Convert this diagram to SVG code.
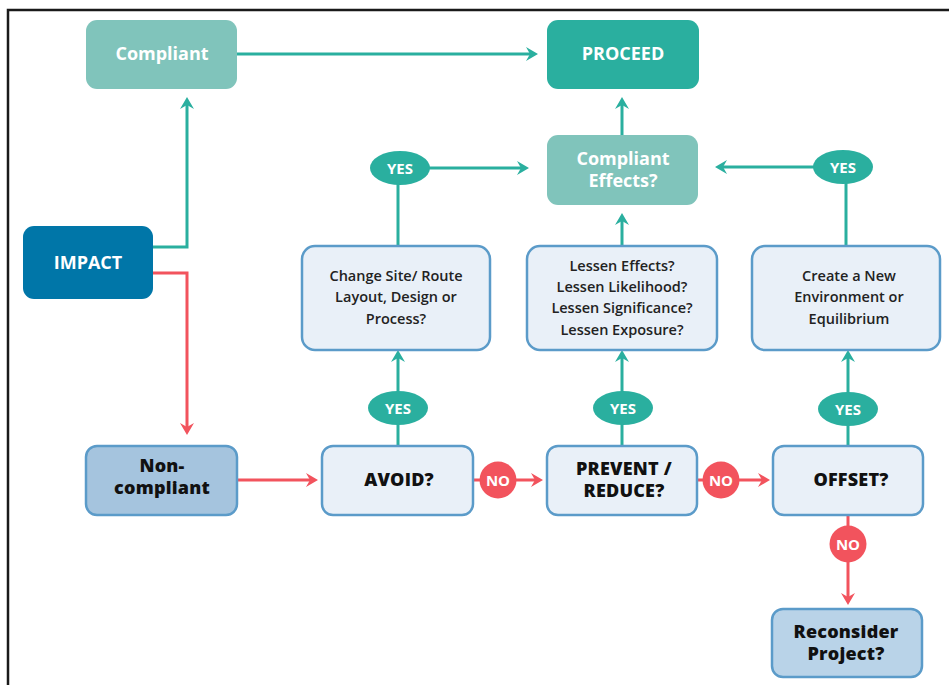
<svg xmlns="http://www.w3.org/2000/svg" width="949" height="685" viewBox="0 0 949 685">
<style>
.t{font-family:"Open Sans","Liberation Sans",sans-serif;text-anchor:middle}
.w{fill:#fff;font-weight:700;font-size:18px}
.b{fill:#111;font-weight:800;font-size:18px;letter-spacing:0.2px}
.s{fill:#222;font-size:14.5px;font-weight:600}
.lbl{fill:#fff;font-weight:700;font-size:15px}
.q{fill:#e9f0f8;stroke:#5b9bc9;stroke-width:2.5}
.ct{fill:none;stroke:#2aaf9f;stroke-width:3}
.cr{fill:none;stroke:#f2535d;stroke-width:3}
</style>
<defs>
<marker id="at" viewBox="-13 -8 14 16" refX="-8" refY="0" markerWidth="14" markerHeight="16" markerUnits="userSpaceOnUse" orient="auto">
<path d="M0,0 L-12,-7 L-8,0 L-12,7 Z" fill="#2aaf9f"/>
</marker>
<marker id="ar" viewBox="-13 -8 14 16" refX="-8" refY="0" markerWidth="14" markerHeight="16" markerUnits="userSpaceOnUse" orient="auto">
<path d="M0,0 L-12,-7 L-8,0 L-12,7 Z" fill="#f2535d"/>
</marker>
</defs>
<rect width="949" height="685" fill="#fff"/>
<path d="M8,690 V10 H955" fill="none" stroke="#1a1a1a" stroke-width="2.5"/>

<g id="connectors">
<path class="ct" d="M153,247 H187 V105" marker-end="url(#at)"/>
<path class="ct" d="M237,54 H530" marker-end="url(#at)"/>
<path class="ct" d="M622,135 V105" marker-end="url(#at)"/>
<path class="ct" d="M622,246 V221" marker-end="url(#at)"/>
<path class="ct" d="M398,446 V358" marker-end="url(#at)"/>
<path class="ct" d="M622,446 V358" marker-end="url(#at)"/>
<path class="ct" d="M848,446 V358" marker-end="url(#at)"/>
<path class="ct" d="M398,246 V168 H521" marker-end="url(#at)"/>
<path class="ct" d="M846,246 V167 H723" marker-end="url(#at)"/>
<path class="cr" d="M153,273 H187 V427" marker-end="url(#ar)"/>
<path class="cr" d="M237,480 H310" marker-end="url(#ar)"/>
<path class="cr" d="M473,480 H535" marker-end="url(#ar)"/>
<path class="cr" d="M697,480 H762" marker-end="url(#ar)"/>
<path class="cr" d="M848,515 V597" marker-end="url(#ar)"/>
</g>

<g id="compliant"><rect x="86" y="20" width="151" height="69" rx="11" fill="#80c4bb"/><text class="t w" x="162" y="60">Compliant</text></g>
<g id="proceed"><rect x="547" y="20" width="152" height="69" rx="11" fill="#2aaf9f"/><text class="t w" x="623" y="60">PROCEED</text></g>
<g id="impact"><rect x="23" y="226" width="130" height="73" rx="11" fill="#0076a8"/><text class="t w" x="88" y="269">IMPACT</text></g>
<g id="compliant-effects"><rect x="547" y="135" width="151" height="70" rx="11" fill="#80c4bb"/><text class="t w" x="623" y="165">Compliant</text><text class="t w" x="623" y="187">Effects?</text></g>

<g id="change-site"><rect class="q" x="302" y="246" width="188" height="104" rx="13"/>
<text class="t s" x="396" y="281">Change Site/ Route</text><text class="t s" x="396" y="302">Layout, Design or</text><text class="t s" x="396" y="324">Process?</text></g>
<g id="lessen"><rect class="q" x="527" y="246" width="190" height="104" rx="13"/>
<text class="t s" x="622" y="271">Lessen Effects?</text><text class="t s" x="622" y="292">Lessen Likelihood?</text><text class="t s" x="622" y="313">Lessen Significance?</text><text class="t s" x="622" y="335">Lessen Exposure?</text></g>
<g id="create"><rect class="q" x="752" y="246" width="188" height="104" rx="13"/>
<text class="t s" x="849" y="281">Create a New</text><text class="t s" x="849" y="302">Environment or</text><text class="t s" x="849" y="324">Equilibrium</text></g>

<g id="non-compliant"><rect x="86" y="446" width="151" height="69" rx="11" fill="#a5c4de" stroke="#5b9bc9" stroke-width="2.5"/><text class="t b" x="162" y="472">Non-</text><text class="t b" x="162" y="494">compliant</text></g>
<g id="avoid"><rect class="q" x="322" y="446" width="151" height="69" rx="11"/><text class="t b" x="399" y="486">AVOID?</text></g>
<g id="prevent"><rect class="q" x="547" y="446" width="150" height="69" rx="11"/><text class="t b" x="624" y="475">PREVENT /</text><text class="t b" x="624" y="497">REDUCE?</text></g>
<g id="offset"><rect class="q" x="773" y="446" width="150" height="69" rx="11"/><text class="t b" x="851" y="486">OFFSET?</text></g>
<g id="reconsider"><rect x="772" y="609" width="150" height="68" rx="11" fill="#b9d3e8" stroke="#5b9bc9" stroke-width="2.5"/><text class="t b" x="846" y="638">Reconsider</text><text class="t b" x="846" y="660">Project?</text></g>

<g id="yes-1"><ellipse cx="400" cy="168" rx="30" ry="17" fill="#2aaf9f"/><text class="t lbl" x="400" y="173.5">YES</text></g>
<g id="yes-2"><ellipse cx="843" cy="167" rx="30" ry="17" fill="#2aaf9f"/><text class="t lbl" x="843" y="172.5">YES</text></g>
<g id="yes-3"><ellipse cx="398" cy="408" rx="30" ry="17" fill="#2aaf9f"/><text class="t lbl" x="398" y="413.5">YES</text></g>
<g id="yes-4"><ellipse cx="623" cy="408" rx="30" ry="17" fill="#2aaf9f"/><text class="t lbl" x="623" y="413.5">YES</text></g>
<g id="yes-5"><ellipse cx="848" cy="409" rx="30" ry="17" fill="#2aaf9f"/><text class="t lbl" x="848" y="414.5">YES</text></g>
<g id="no-1"><circle cx="498" cy="480" r="18.5" fill="#f2535d"/><text class="t lbl" x="498" y="485.5">NO</text></g>
<g id="no-2"><circle cx="721" cy="480" r="18.5" fill="#f2535d"/><text class="t lbl" x="721" y="485.5">NO</text></g>
<g id="no-3"><circle cx="848" cy="544" r="18.5" fill="#f2535d"/><text class="t lbl" x="848" y="549.5">NO</text></g>
</svg>
